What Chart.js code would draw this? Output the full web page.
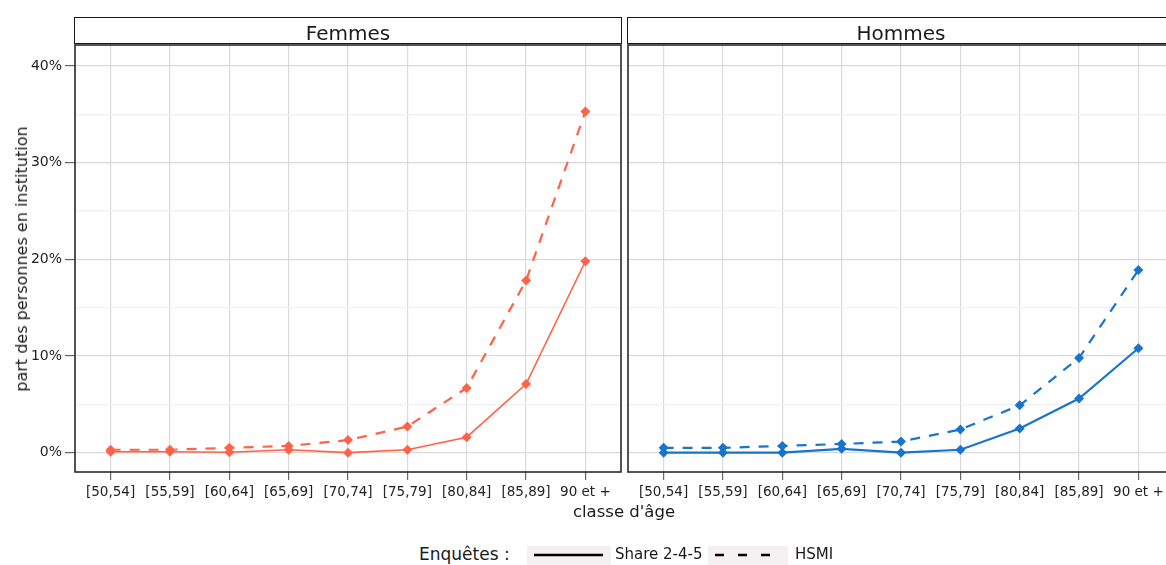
<!DOCTYPE html>
<html>
<head>
<meta charset="utf-8">
<script src="https://cdn.jsdelivr.net/npm/chart.js@4.4.1/dist/chart.umd.min.js"></script>
<style>
  html, body { margin: 0; padding: 0; background: #fff; overflow: hidden; }
  body { width: 1166px; height: 565px; position: relative; font-family: "DejaVu Sans", sans-serif; color: #1a1a1a; }
  canvas { position: absolute; top: 0; }
  .strip { position: absolute; top: 17px; height: 27px; border: 1px solid #1a1a1a; background: #fff; box-sizing: border-box; }
  .strip span { position: absolute; left: 0; right: 0; top: 5px; text-align: center; font-size: 20px; line-height: 1; }
  .txt { position: absolute; line-height: 1; white-space: nowrap; }
  .key { position: absolute; top: 546px; height: 22px; background: #f5f1f3; }
</style>
</head>
<body>
<canvas id="femmes" width="626" height="530" style="left:0"></canvas>
<canvas id="hommes" width="560" height="530" style="left:622px"></canvas>

<div class="strip" style="left:74px;width:548px"><span>Femmes</span></div>
<div class="strip" style="left:627px;width:548px"><span>Hommes</span></div>

<div class="txt" style="left:624px;top:504px;font-size:16.5px;transform:translateX(-50%)">classe d'âge</div>
<div class="txt" style="left:22px;top:259px;font-size:16px;transform:translate(-50%,-50%) rotate(-90deg)">part des personnes en institution</div>

<div class="txt" style="left:419px;top:546px;font-size:17px">Enquêtes :</div>
<div class="key" style="left:527px;width:84px">
  <svg width="84" height="22"><line x1="7" y1="9" x2="76" y2="9" stroke="#000" stroke-width="2.5"/></svg>
</div>
<div class="txt" style="left:615px;top:547px;font-size:15px">Share 2-4-5</div>
<div class="key" style="left:708px;width:80px">
  <svg width="80" height="22"><line x1="7" y1="9" x2="73" y2="9" stroke="#000" stroke-width="2.5" stroke-dasharray="9 14"/></svg>
</div>
<div class="txt" style="left:795px;top:547px;font-size:15px">HSMI</div>

<script>
// age classes on the x axis
const ageGroups = ['[50,54]', '[55,59]', '[60,64]', '[65,69]', '[70,74]', '[75,79]', '[80,84]', '[85,89]', '90 et +'];

// share of people in institution (%)
const femmesShare = [0.1, 0.1, 0.05, 0.3, 0.0, 0.3, 1.6, 7.1, 19.8];
const femmesHsmi  = [0.3, 0.3, 0.5, 0.7, 1.3, 2.7, 6.7, 17.8, 35.3];
const hommesShare = [0.0, 0.0, 0.0, 0.4, 0.0, 0.3, 2.5, 5.6, 10.8];
const hommesHsmi  = [0.5, 0.5, 0.7, 0.9, 1.15, 2.4, 4.9, 9.8, 18.9];

// y ticks
const yMajor = [0, 10, 20, 30, 40];
const yMinor = [5, 15, 25, 35];

Chart.defaults.font.family = '"DejaVu Sans", sans-serif';
Chart.defaults.color = '#222';

const panelBorder = {
    id: 'panelBorder',
    afterDraw(chart) {
        const { ctx, chartArea: a } = chart;
        ctx.save();
        ctx.strokeStyle = '#2a2a2a';
        ctx.lineWidth = 1.6;
        ctx.strokeRect(a.left, a.top, a.right - a.left, a.bottom - a.top);
        ctx.restore();
    }
};

function toPoints(values) {
    return values.map((v, i) => ({ x: i + 1, y: v }));
}

function makePanel(id, share, hsmi, color, solidWidth, showY, padding) {
    const ctx = document.getElementById(id).getContext('2d');
    return new Chart(ctx, {
        type: 'line',
        data: {
            datasets: [{
                label: 'HSMI',
                data: toPoints(hsmi),
                borderColor: color,
                backgroundColor: color,
                borderWidth: 2.2,
                borderDash: [10, 9],
                pointStyle: 'rectRot',
                pointRadius: 5,
                pointBorderWidth: 0,
                tension: 0
            }, {
                label: 'Share 2-4-5',
                data: toPoints(share),
                borderColor: color,
                backgroundColor: color,
                borderWidth: solidWidth,
                pointStyle: 'rectRot',
                pointRadius: 5,
                pointBorderWidth: 0,
                tension: 0
            }]
        },
        options: {
            responsive: false,
            animation: false,
            devicePixelRatio: 1,
            layout: { padding: padding, autoPadding: false },
            plugins: { legend: { display: false }, tooltip: { enabled: false } },
            scales: {
                x: {
                    type: 'linear',
                    min: 0.4,
                    max: 9.6,
                    afterBuildTicks: (scale) => { scale.ticks = ageGroups.map((_, i) => ({ value: i + 1 })); },
                    afterFit: (scale) => { scale.height = 58; },
                    border: { display: false },
                    grid: { color: '#d9d9d9', lineWidth: 1.2, tickLength: 8, tickColor: '#666' },
                    ticks: {
                        autoSkip: false,
                        maxRotation: 0,
                        padding: 4,
                        color: '#222',
                        font: { size: 13.5 },
                        callback: (v) => ageGroups[v - 1]
                    }
                },
                y: {
                    min: -2.0,
                    max: 42.17,
                    afterBuildTicks: (scale) => {
                        scale.ticks = yMajor.concat(yMinor).sort((a, b) => a - b).map(v => ({ value: v }));
                    },
                    afterFit: (scale) => { scale.width = showY ? 75 : 0; },
                    border: { display: false },
                    grid: {
                        color: (c) => yMajor.includes(c.tick.value) ? '#d9d9d9' : '#f0f0f0',
                        lineWidth: 1.2,
                        drawTicks: showY,
                        tickLength: 10,
                        tickColor: (c) => yMajor.includes(c.tick.value) ? '#666' : 'rgba(0,0,0,0)'
                    },
                    ticks: {
                        display: showY,
                        padding: 3,
                        color: '#222',
                        font: { size: 14 },
                        callback: (v) => yMajor.includes(v) ? v + '%' : ''
                    }
                }
            }
        },
        plugins: [panelBorder]
    });
}

makePanel('femmes', femmesShare, femmesHsmi, '#ff6347', 1.6, true, { top: 45, right: 5, left: 0, bottom: 0 });
makePanel('hommes', hommesShare, hommesHsmi, '#1874cd', 2.2, false, { top: 45, right: 8, left: 6, bottom: 0 });
</script>
</body>
</html>
